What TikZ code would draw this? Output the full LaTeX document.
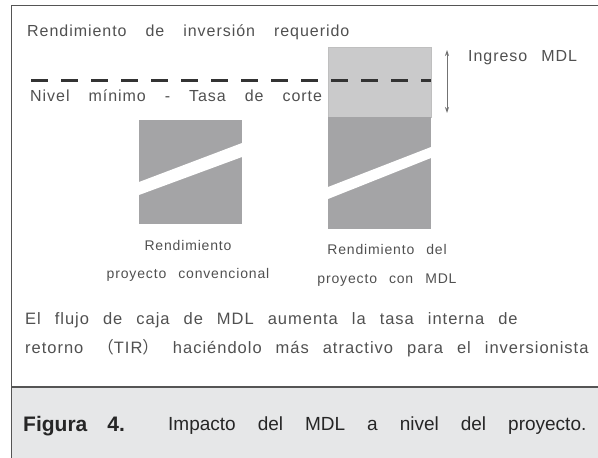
\documentclass[tikz,border=0pt]{standalone}
\usepackage{fontspec}
\setmainfont{Liberation Sans}
\newfontfamily\diagfont[LetterSpace=6]{Liberation Sans}
\newfontfamily\cjk{Noto Sans CJK SC}
\usetikzlibrary{arrows.meta}
\definecolor{txtgray}{HTML}{505050}
\definecolor{boxdark}{HTML}{A4A4A6}
\definecolor{boxlight}{HTML}{CACACB}
\definecolor{capbg}{HTML}{E6E7E8}
\definecolor{framegray}{HTML}{555555}
\newcommand\lblfont{\diagfont\fontsize{16}{18}\selectfont\spaceskip 19pt\relax}
\newcommand\txtfont{\diagfont\fontsize{16.5}{18}\selectfont\spaceskip 14pt\relax}
\newcommand\sublblfont{\diagfont\fontsize{14}{16}\selectfont\spaceskip 12pt\relax}
\newcommand\capfont{\fontsize{19}{21}\selectfont\spaceskip 22pt\relax}
\begin{document}
\begin{tikzpicture}[x=1pt,y=-1pt,
    lbl/.style={text=txtgray,inner sep=0pt,anchor=west,font=\lblfont},
    txt/.style={lbl,font=\txtfont},
    sublbl/.style={text=txtgray,inner sep=0pt,font=\sublblfont},
    bar/.style={fill=boxdark,draw=none,inner sep=0pt,anchor=north west},
    figcap/.style={text=black!85,inner sep=0pt,anchor=west,font=\capfont}]
\useasboundingbox (0,0) rectangle (598,458);
\fill[capbg] (11.5,387) rectangle (598,458);
\draw[framegray,line width=1.5pt] (11.5,458) -- (11.5,5.5) -- (598,5.5);
\draw[framegray,line width=1.2pt] (11.5,387) -- (598,387);

\node[lbl] (req) at (27,32) {Rendimiento de inversión requerido};
\node[lbl] (nivel) at (30,96) {Nivel mínimo - Tasa de corte};

\node[bar,minimum width=103,minimum height=104] (conv) at (139,120) {};
\node[bar,fill=boxlight,draw=black!25,minimum width=103,minimum height=70] (ingreso) at (328,47) {};
\node[bar,minimum width=103,minimum height=112] (mdl) at (328,117) {};
\fill[white] (139,182) -- (242,143) -- (242,157) -- (139,195) -- cycle;
\fill[white] (328,187) -- (431,147) -- (431,158) -- (328,199) -- cycle;

\coordinate (corteL) at (31,80);
\coordinate (corteR) at (ingreso.east |- corteL);
\draw[black!80,line width=3pt,dash pattern=on 17pt off 13pt] (corteL) -- (corteR);

\coordinate (ingtop) at (447,50);
\coordinate (ingbot) at (447,113);
\draw[black!55,line width=0.8pt,{Stealth[length=6pt,width=4pt]}-{Stealth[length=6pt,width=4pt]}] (ingtop) -- (ingbot);
\node[lbl,font=\lblfont\spaceskip 14pt\relax] (inglbl) at (468,58) {Ingreso MDL};

\node[sublbl] (conv1) at (188,245) {Rendimiento};
\node[sublbl] (conv2) at (188,275) {proyecto convencional};
\node[sublbl] (mdl1) at (387,249) {Rendimiento del};
\node[sublbl] (mdl2) at (387,280) {proyecto con MDL};

\node[txt] (flujo1) at (25,320) {El flujo de caja de MDL aumenta la tasa interna de};
\node[txt] (flujo2) at (25,348) {retorno {\cjk （}TIR{\cjk ）} haciéndolo más atractivo para el inversionista};

\node[figcap,font=\bfseries\fontsize{21}{23}\selectfont] (fignum) at (23,426) {Figura\hspace{20pt}4.};
\node[figcap] (figtxt) at (168,426) {Impacto del MDL a nivel del proyecto.};
\end{tikzpicture}
\end{document}
